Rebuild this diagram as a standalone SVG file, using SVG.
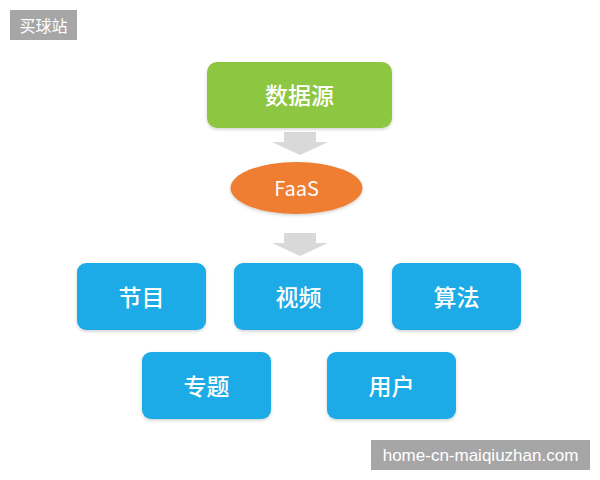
<svg xmlns="http://www.w3.org/2000/svg" width="600" height="480" viewBox="0 0 600 480">
<defs>
<filter id="sh" x="-10%" y="-10%" width="120%" height="130%">
<feDropShadow dx="0" dy="1.5" stdDeviation="1.5" flood-color="#000" flood-opacity="0.18"/>
</filter>
</defs>
<style>
.cn{font-family:"Noto Sans CJK SC","Noto Sans",sans-serif;fill:#fff;text-anchor:middle;dominant-baseline:central}
.box{fill:#1eabe6;filter:url(#sh)}
.lbl{font-size:23px;font-weight:500}
.wm{fill:#a6a6a6}
.arr{fill:#d9d9d9}
</style>
<rect width="600" height="480" fill="#fff"/>
<g id="wm-top">
<rect class="wm" x="10" y="10" width="67" height="30"/>
<text class="cn" x="43.5" y="24.5" font-size="16">买球站</text>
</g>
<g id="connectors">
<path class="arr" d="M284,132 H316 V142 H328 L300,155 L272,142 H284 Z"/>
<path class="arr" d="M284,233 H316 V243 H328 L300,256 L272,243 H284 Z"/>
</g>
<g id="n-source">
<rect x="207" y="62" width="185" height="66" rx="10" fill="#8dc641" filter="url(#sh)"/>
<text class="cn lbl" x="299.5" y="93.5">数据源</text>
</g>
<g id="n-faas">
<ellipse cx="296.5" cy="188" rx="66" ry="26" fill="#ef7d31" filter="url(#sh)"/>
<text class="cn" x="296.5" y="187.5" font-size="20" font-family="Open Sans, Noto Sans, sans-serif">FaaS</text>
</g>
<g id="n-jiemu">
<rect class="box" x="77" y="263" width="129" height="67" rx="9"/>
<text class="cn lbl" x="141.5" y="296">节目</text>
</g>
<g id="n-shipin">
<rect class="box" x="234" y="263" width="129" height="67" rx="9"/>
<text class="cn lbl" x="298.5" y="296">视频</text>
</g>
<g id="n-suanfa">
<rect class="box" x="392" y="263" width="129" height="67" rx="9"/>
<text class="cn lbl" x="456.5" y="296">算法</text>
</g>
<g id="n-zhuanti">
<rect class="box" x="142" y="352" width="129" height="67" rx="9"/>
<text class="cn lbl" x="206.5" y="385">专题</text>
</g>
<g id="n-yonghu">
<rect class="box" x="327" y="352" width="129" height="67" rx="9"/>
<text class="cn lbl" x="391.5" y="385">用户</text>
</g>
<g id="wm-bottom">
<rect class="wm" x="371" y="440" width="219" height="30"/>
<text x="480.5" y="455" font-size="17" font-family="Liberation Sans, Arial, sans-serif" fill="#fff" text-anchor="middle" dominant-baseline="central">home-cn-maiqiuzhan.com</text>
</g>
</svg>
